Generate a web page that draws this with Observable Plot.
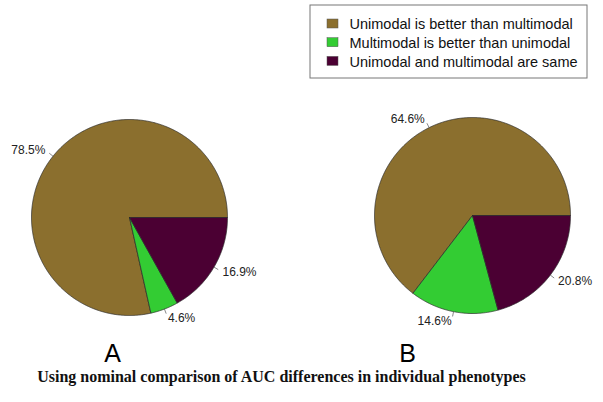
<!DOCTYPE html>
<html>
<head>
<meta charset="utf-8">
<script src="https://cdn.jsdelivr.net/npm/d3@7"></script>
<script src="https://cdn.jsdelivr.net/npm/@observablehq/plot@0.6"></script>
<style>
  html, body { margin: 0; padding: 0; background: #fff; }
</style>
</head>
<body>
<div id="chart"></div>
<script>
// ---- data ----
const categories = [
  "Unimodal is better than multimodal",
  "Multimodal is better than unimodal",
  "Unimodal and multimodal are same"
];
const colors = ["#8B6F2E", "#33CC33", "#4B0033"];
const panels = ["A", "B"];
const valuesA = [78.5, 4.6, 16.9];
const valuesB = [64.6, 14.6, 20.8];
const title = "Using nominal comparison of AUC differences in individual phenotypes";

// ---- layout ----
const W = 603, H = 402;
const R = 98;
const centers = {A: [129, 217], B: [472, 215]};
const letterPos = {A: [112, 361], B: [407, 361]};

const series = {A: valuesA, B: valuesB};
const polys = [];
const ticks = [];
const labels = [];
for (const p of panels) {
  const vals = series[p];
  const total = d3.sum(vals);
  const [cx, cy] = centers[p];
  let cum = 0;
  vals.forEach((v, i) => {
    const a0 = cum / total * 2 * Math.PI;
    cum += v;
    const a1 = cum / total * 2 * Math.PI;
    const key = p + i;
    const n = Math.max(2, Math.ceil((a1 - a0) / 0.01));
    polys.push({key, cat: categories[i], x: cx, y: cy});
    for (let k = 0; k <= n; k++) {
      const a = a0 + (a1 - a0) * k / n;
      polys.push({key, cat: categories[i], x: cx + R * Math.cos(a), y: cy - R * Math.sin(a)});
    }
    polys.push({key, cat: categories[i], x: cx, y: cy});
    const am = (a0 + a1) / 2;
    const c = Math.cos(am), s = Math.sin(am);
    ticks.push({x1: cx + R * c, y1: cy - R * s, x2: cx + R * 1.05 * c, y2: cy - R * 1.05 * s});
    labels.push({x: cx + R * 1.1 * c, y: cy - R * 1.1 * s, text: v.toFixed(1) + "%", left: c >= 0});
  });
}

// legend
const legX = 310, legY = 5, legW = 277, legH = 73;
const legend = categories.map((c, i) => ({cat: c, x: 333, y: 24 + i * 18.7}));

const chart = Plot.plot({
  width: W,
  height: H,
  margin: 0,
  x: {domain: [0, W], range: [0, W], axis: null},
  y: {domain: [0, H], range: [0, H], axis: null},
  color: {domain: categories, range: colors},
  style: {fontFamily: "Liberation Sans, Arial, sans-serif", background: "#fff"},
  marks: [
    Plot.line(polys, {x: "x", y: "y", z: "key", fill: "cat", stroke: "#2a2a2a", strokeWidth: 0.7, strokeLinejoin: "round", curve: "linear"}),
    Plot.link(ticks, {x1: "x1", y1: "y1", x2: "x2", y2: "y2", stroke: "#555", strokeWidth: 0.7}),
    Plot.text(labels.filter(d => d.left), {x: "x", y: "y", text: "text", textAnchor: "start", fontSize: 12, fill: "#222"}),
    Plot.text(labels.filter(d => !d.left), {x: "x", y: "y", text: "text", textAnchor: "end", fontSize: 12, fill: "#222"}),
    Plot.rect([{x1: legX, x2: legX + legW, y1: legY, y2: legY + legH}], {x1: "x1", x2: "x2", y1: "y1", y2: "y2", fill: "white", stroke: "#777", strokeWidth: 1}),
    Plot.rect(legend, {x1: d => d.x - 6, x2: d => d.x + 5, y1: d => d.y - 5, y2: d => d.y + 4, fill: "cat", stroke: "#555", strokeWidth: 0.5}),
    Plot.text(legend, {x: d => d.x + 16, y: "y", text: "cat", textAnchor: "start", fontSize: 14.5, fill: "#111"}),
    Plot.text(panels, {x: d => letterPos[d][0], y: d => letterPos[d][1], text: d => d, fontSize: 25, fill: "#000", lineAnchor: "bottom"}),
    Plot.text([title], {x: 281, y: 376, text: d => d, fontSize: 16, fontWeight: "bold", fontFamily: "Liberation Serif, Times New Roman, serif", fill: "#111"})
  ]
});
document.getElementById("chart").appendChild(chart);
</script>
</body>
</html>
